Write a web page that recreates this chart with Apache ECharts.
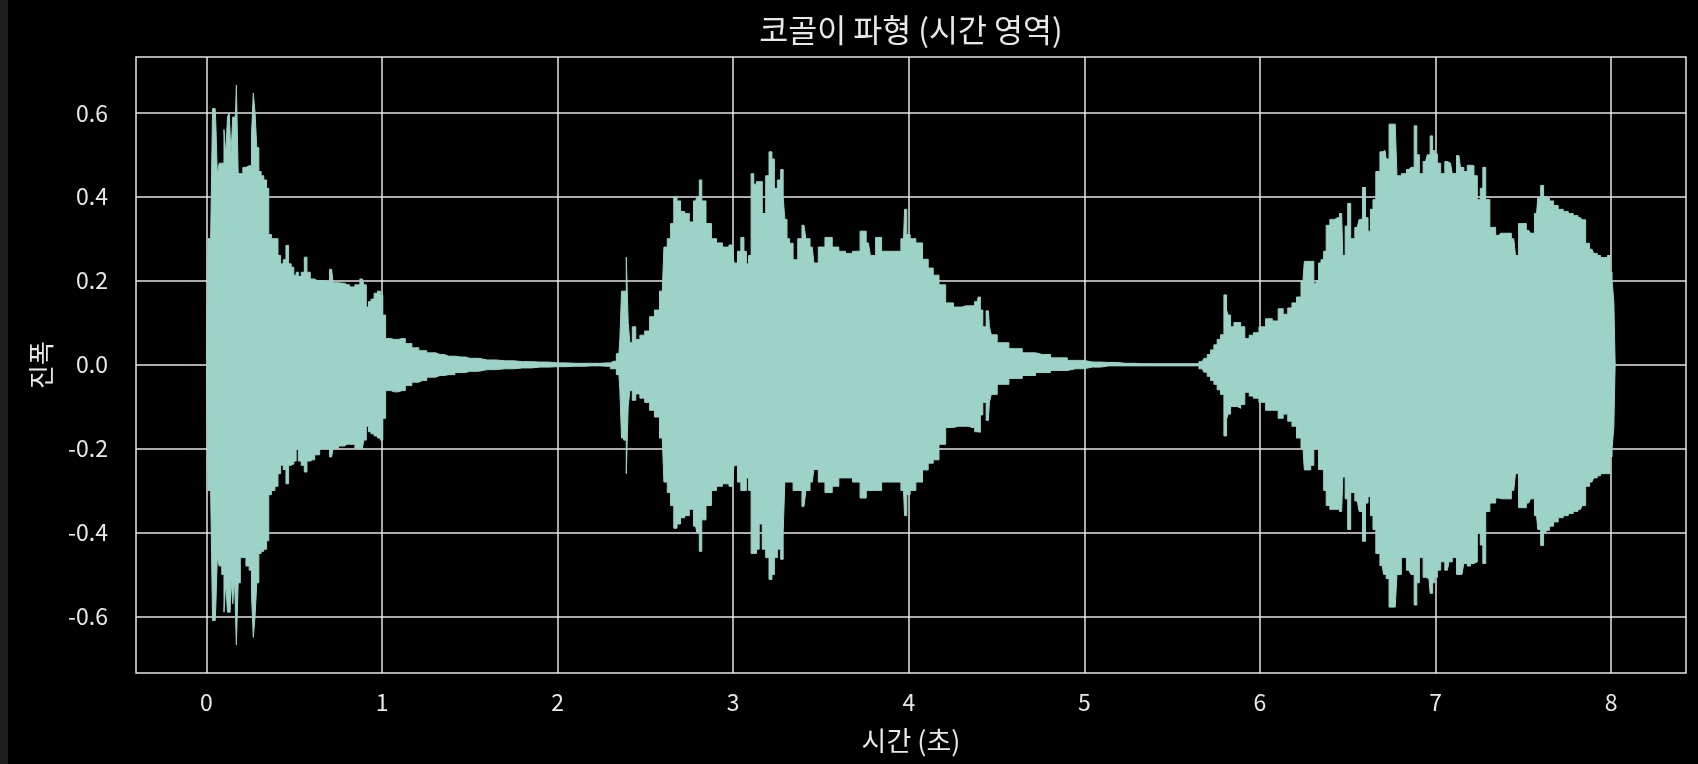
<!DOCTYPE html>
<html>
<head>
<meta charset="utf-8">
<title>코골이 파형</title>
<script src="https://cdn.jsdelivr.net/npm/echarts@6/dist/echarts.min.js"></script>
<style>
  html, body { margin: 0; padding: 0; background: #000; }
  #chart { width: 1698px; height: 764px; }
</style>
</head>
<body>
<div id="chart"></div>
<script>
  // 시간(초) - 파형 포락선 샘플 위치
  var times = [
    0.000, 0.018, 0.030, 0.040, 0.050, 0.058, 0.066, 0.080,
    0.095, 0.105, 0.115, 0.125, 0.135, 0.145, 0.155, 0.165,
    0.176, 0.186, 0.200, 0.215, 0.235, 0.252, 0.262, 0.272,
    0.282, 0.292, 0.305, 0.318, 0.335, 0.350, 0.360, 0.380,
    0.400, 0.415, 0.430, 0.445, 0.461, 0.475, 0.490, 0.505,
    0.517, 0.530, 0.550, 0.565, 0.580, 0.603, 0.630, 0.660,
    0.690, 0.713, 0.730, 0.774, 0.800, 0.831, 0.860, 0.888,
    0.905, 0.916, 0.930, 0.945, 0.965, 0.983, 0.998, 1.011,
    1.030, 1.070, 1.115, 1.150, 1.190, 1.229, 1.280, 1.330,
    1.380, 1.450, 1.500, 1.600, 1.700, 1.800, 1.900, 2.000,
    2.100, 2.200, 2.280, 2.320, 2.349, 2.360, 2.368, 2.385,
    2.397, 2.407, 2.416, 2.435, 2.455, 2.482, 2.510, 2.538,
    2.565, 2.596, 2.615, 2.634, 2.653, 2.670, 2.690, 2.710,
    2.738, 2.762, 2.786, 2.800, 2.814, 2.828, 2.862, 2.890,
    2.920, 2.957, 2.995, 3.014, 3.035, 3.052, 3.070, 3.080,
    3.095, 3.109, 3.125, 3.140, 3.156, 3.175, 3.195, 3.213,
    3.228, 3.241, 3.262, 3.279, 3.290, 3.298, 3.315, 3.327,
    3.355, 3.380, 3.403, 3.425, 3.450, 3.469, 3.500, 3.545,
    3.583, 3.620, 3.659, 3.700, 3.745, 3.770, 3.792, 3.830,
    3.860, 3.896, 3.940, 3.970, 3.982, 3.995, 4.020, 4.060,
    4.096, 4.125, 4.153, 4.191, 4.229, 4.280, 4.324, 4.360,
    4.390, 4.400, 4.415, 4.428, 4.453, 4.465, 4.475, 4.532,
    4.608, 4.684, 4.760, 4.855, 4.950, 5.045, 5.140, 5.235,
    5.330, 5.450, 5.560, 5.634, 5.671, 5.690, 5.709, 5.728,
    5.747, 5.765, 5.785, 5.804, 5.815, 5.823, 5.842, 5.861,
    5.880, 5.900, 5.927, 5.950, 5.975, 6.013, 6.051, 6.089,
    6.118, 6.146, 6.170, 6.194, 6.222, 6.245, 6.260, 6.280,
    6.298, 6.315, 6.327, 6.340, 6.355, 6.370, 6.384, 6.412,
    6.440, 6.465, 6.478, 6.492, 6.507, 6.526, 6.554, 6.575,
    6.592, 6.610, 6.620, 6.638, 6.649, 6.670, 6.696, 6.712,
    6.725, 6.745, 6.770, 6.790, 6.820, 6.848, 6.870, 6.886,
    6.900, 6.915, 6.943, 6.962, 6.976, 6.990, 7.000, 7.020,
    7.038, 7.067, 7.085, 7.105, 7.133, 7.150, 7.171, 7.190,
    7.209, 7.228, 7.247, 7.262, 7.276, 7.295, 7.323, 7.361,
    7.380, 7.418, 7.445, 7.465, 7.480, 7.503, 7.530, 7.551,
    7.575, 7.589, 7.608, 7.622, 7.636, 7.660, 7.684, 7.712,
    7.741, 7.770, 7.797, 7.825, 7.845, 7.864, 7.890, 7.911,
    7.930, 7.949, 7.970, 7.987, 8.000, 8.010, 8.020, 8.025
  ]

  // 진폭 상단 포락선
  var upper = [
    0.010, 0.300, 0.300, 0.610, 0.610, 0.570, 0.455, 0.480,
    0.480, 0.560, 0.500, 0.590, 0.600, 0.500, 0.590, 0.590,
    0.666, 0.455, 0.455, 0.470, 0.474, 0.474, 0.550, 0.647,
    0.600, 0.517, 0.460, 0.450, 0.440, 0.420, 0.310, 0.300,
    0.300, 0.260, 0.240, 0.250, 0.284, 0.240, 0.232, 0.213,
    0.220, 0.210, 0.220, 0.256, 0.220, 0.204, 0.200, 0.200,
    0.198, 0.227, 0.195, 0.194, 0.190, 0.185, 0.190, 0.204,
    0.190, 0.137, 0.150, 0.156, 0.170, 0.175, 0.165, 0.118,
    0.062, 0.060, 0.062, 0.050, 0.040, 0.033, 0.028, 0.024,
    0.020, 0.018, 0.015, 0.011, 0.009, 0.007, 0.006, 0.004,
    0.003, 0.003, 0.004, 0.008, 0.026, 0.060, 0.175, 0.175,
    0.256, 0.100, 0.052, 0.090, 0.060, 0.070, 0.080, 0.114,
    0.130, 0.175, 0.280, 0.300, 0.336, 0.400, 0.390, 0.365,
    0.360, 0.340, 0.390, 0.400, 0.440, 0.390, 0.336, 0.300,
    0.290, 0.280, 0.285, 0.242, 0.270, 0.303, 0.270, 0.240,
    0.260, 0.455, 0.430, 0.436, 0.436, 0.360, 0.450, 0.507,
    0.490, 0.420, 0.440, 0.465, 0.400, 0.346, 0.300, 0.289,
    0.250, 0.300, 0.332, 0.300, 0.280, 0.242, 0.280, 0.303,
    0.280, 0.270, 0.265, 0.270, 0.318, 0.290, 0.260, 0.303,
    0.270, 0.270, 0.270, 0.300, 0.370, 0.310, 0.300, 0.290,
    0.251, 0.230, 0.213, 0.190, 0.147, 0.137, 0.140, 0.140,
    0.150, 0.161, 0.130, 0.090, 0.128, 0.090, 0.071, 0.052,
    0.038, 0.028, 0.024, 0.016, 0.010, 0.006, 0.005, 0.003,
    0.002, 0.002, 0.002, 0.002, 0.007, 0.015, 0.024, 0.035,
    0.047, 0.060, 0.071, 0.166, 0.130, 0.118, 0.090, 0.100,
    0.100, 0.090, 0.062, 0.070, 0.076, 0.090, 0.109, 0.104,
    0.133, 0.120, 0.135, 0.147, 0.161, 0.200, 0.246, 0.246,
    0.246, 0.194, 0.200, 0.242, 0.250, 0.270, 0.332, 0.346,
    0.350, 0.360, 0.260, 0.330, 0.384, 0.300, 0.327, 0.346,
    0.422, 0.350, 0.318, 0.370, 0.393, 0.460, 0.507, 0.510,
    0.490, 0.573, 0.573, 0.450, 0.455, 0.465, 0.470, 0.569,
    0.500, 0.455, 0.484, 0.500, 0.545, 0.510, 0.502, 0.480,
    0.455, 0.484, 0.480, 0.455, 0.498, 0.470, 0.460, 0.475,
    0.474, 0.450, 0.393, 0.420, 0.470, 0.393, 0.327, 0.308,
    0.313, 0.313, 0.300, 0.260, 0.336, 0.336, 0.320, 0.313,
    0.360, 0.398, 0.427, 0.400, 0.398, 0.390, 0.379, 0.370,
    0.365, 0.360, 0.355, 0.350, 0.345, 0.289, 0.275, 0.265,
    0.260, 0.255, 0.255, 0.260, 0.220, 0.200, 0.150, 0.000
  ]

  // 진폭 하단 포락선
  var lower = [
    -0.010, -0.300, -0.300, -0.610, -0.610, -0.570, -0.460, -0.480,
    -0.500, -0.590, -0.520, -0.590, -0.590, -0.510, -0.570, -0.510,
    -0.668, -0.520, -0.460, -0.460, -0.480, -0.490, -0.550, -0.650,
    -0.600, -0.520, -0.450, -0.445, -0.440, -0.420, -0.310, -0.300,
    -0.290, -0.260, -0.240, -0.250, -0.284, -0.240, -0.237, -0.230,
    -0.200, -0.230, -0.240, -0.256, -0.230, -0.227, -0.215, -0.200,
    -0.200, -0.220, -0.200, -0.194, -0.190, -0.190, -0.200, -0.200,
    -0.180, -0.147, -0.160, -0.165, -0.170, -0.175, -0.180, -0.128,
    -0.062, -0.065, -0.062, -0.050, -0.042, -0.038, -0.030, -0.026,
    -0.024, -0.019, -0.016, -0.012, -0.010, -0.008, -0.006, -0.005,
    -0.004, -0.003, -0.004, -0.010, -0.024, -0.060, -0.175, -0.180,
    -0.260, -0.100, -0.062, -0.085, -0.070, -0.080, -0.090, -0.109,
    -0.125, -0.175, -0.280, -0.305, -0.336, -0.390, -0.380, -0.365,
    -0.360, -0.345, -0.385, -0.400, -0.445, -0.370, -0.336, -0.300,
    -0.290, -0.284, -0.290, -0.240, -0.280, -0.300, -0.300, -0.270,
    -0.300, -0.450, -0.450, -0.440, -0.380, -0.440, -0.460, -0.512,
    -0.500, -0.460, -0.440, -0.464, -0.400, -0.280, -0.280, -0.280,
    -0.300, -0.300, -0.338, -0.300, -0.280, -0.250, -0.280, -0.305,
    -0.290, -0.270, -0.270, -0.280, -0.318, -0.300, -0.300, -0.300,
    -0.280, -0.280, -0.280, -0.300, -0.360, -0.310, -0.300, -0.280,
    -0.251, -0.235, -0.227, -0.190, -0.150, -0.147, -0.147, -0.150,
    -0.160, -0.161, -0.120, -0.090, -0.133, -0.090, -0.071, -0.047,
    -0.033, -0.026, -0.019, -0.014, -0.010, -0.006, -0.003, -0.003,
    -0.003, -0.003, -0.003, -0.003, -0.010, -0.018, -0.028, -0.038,
    -0.047, -0.060, -0.071, -0.170, -0.130, -0.118, -0.100, -0.100,
    -0.104, -0.095, -0.066, -0.075, -0.080, -0.090, -0.109, -0.109,
    -0.128, -0.118, -0.135, -0.147, -0.175, -0.200, -0.251, -0.251,
    -0.240, -0.200, -0.200, -0.250, -0.251, -0.300, -0.336, -0.345,
    -0.345, -0.350, -0.268, -0.320, -0.393, -0.305, -0.325, -0.350,
    -0.421, -0.330, -0.315, -0.360, -0.393, -0.450, -0.479, -0.500,
    -0.510, -0.578, -0.578, -0.500, -0.460, -0.490, -0.500, -0.573,
    -0.520, -0.460, -0.507, -0.510, -0.545, -0.520, -0.507, -0.490,
    -0.470, -0.490, -0.470, -0.460, -0.500, -0.500, -0.474, -0.480,
    -0.474, -0.470, -0.400, -0.430, -0.474, -0.350, -0.330, -0.318,
    -0.320, -0.320, -0.300, -0.260, -0.341, -0.341, -0.330, -0.320,
    -0.360, -0.393, -0.431, -0.400, -0.395, -0.385, -0.375, -0.365,
    -0.360, -0.355, -0.350, -0.345, -0.336, -0.290, -0.280, -0.270,
    -0.265, -0.260, -0.260, -0.260, -0.220, -0.200, -0.150, 0.000
  ]

  var xTicks = [0, 1, 2, 3, 4, 5, 6, 7, 8]
  var yTicks = [-0.6, -0.4, -0.2, 0, 0.2, 0.4, 0.6]

  var waveColor = '#9dd2c7'
  var fg = '#e8e8e8'
  var font = '"Noto Sans CJK KR", "Noto Sans", sans-serif'

  function pairs(ys) {
    return times.map(function (t, i) {
      return [t, ys[i]]
    })
  }

  var chart = echarts.init(document.getElementById('chart'), null, {renderer: 'canvas'})

  chart.setOption({
    backgroundColor: '#000',
    animation: false,
    graphic: [
      // 왼쪽 가장자리 회색 띠
      {type: 'rect', left: 0, top: 0, shape: {width: 8, height: 764}, style: {fill: '#1f1f1f'}},
      // 제목 (플롯 영역 가운데 정렬)
      {
        type: 'text',
        x: 911,
        y: 30,
        style: {
          text: '코골이 파형 (시간 영역)',
          fill: fg,
          font: '31.5px "Noto Sans CJK KR", sans-serif',
          textAlign: 'center',
          textVerticalAlign: 'middle'
        }
      }
    ],
    grid: {
      left: 136,
      right: 12,
      top: 57,
      bottom: 91,
      show: true,
      borderColor: '#e6e6e6',
      borderWidth: 1.5,
      backgroundColor: 'transparent'
    },
    xAxis: {
      type: 'value',
      min: -0.401,
      max: 8.426,
      name: '시간 (초)',
      nameLocation: 'middle',
      nameGap: 54,
      nameTextStyle: {color: fg, fontSize: 27, fontFamily: font},
      axisLine: {show: false},
      axisTick: {show: false, customValues: xTicks},
      axisLabel: {
        customValues: xTicks,
        color: fg,
        fontSize: 23,
        fontFamily: font,
        margin: 18,
        formatter: function (v) { return String(v) }
      },
      splitLine: {show: true, lineStyle: {color: '#e6e6e6', width: 1.5}}
    },
    yAxis: {
      type: 'value',
      min: -0.735,
      max: 0.733,
      name: '진폭',
      nameLocation: 'middle',
      nameRotate: 90,
      nameGap: 82,
      nameTextStyle: {color: fg, fontSize: 26, fontFamily: font},
      axisLine: {show: false},
      axisTick: {show: false, customValues: yTicks},
      axisLabel: {
        customValues: yTicks,
        color: fg,
        fontSize: 23,
        fontFamily: font,
        margin: 28,
        formatter: function (v) { return v.toFixed(1) }
      },
      splitLine: {show: true, lineStyle: {color: '#e6e6e6', width: 1.5}}
    },
    series: [
      {
        name: '상단',
        type: 'line',
        step: 'middle',
        data: pairs(upper),
        symbol: 'none',
        lineStyle: {color: waveColor, width: 1},
        areaStyle: {color: waveColor, opacity: 1, origin: -0.002},
        silent: true
      },
      {
        name: '하단',
        type: 'line',
        step: 'middle',
        data: pairs(lower),
        symbol: 'none',
        lineStyle: {color: waveColor, width: 1},
        areaStyle: {color: waveColor, opacity: 1, origin: 0.002},
        silent: true
      }
    ]
  })
</script>
</body>
</html>
